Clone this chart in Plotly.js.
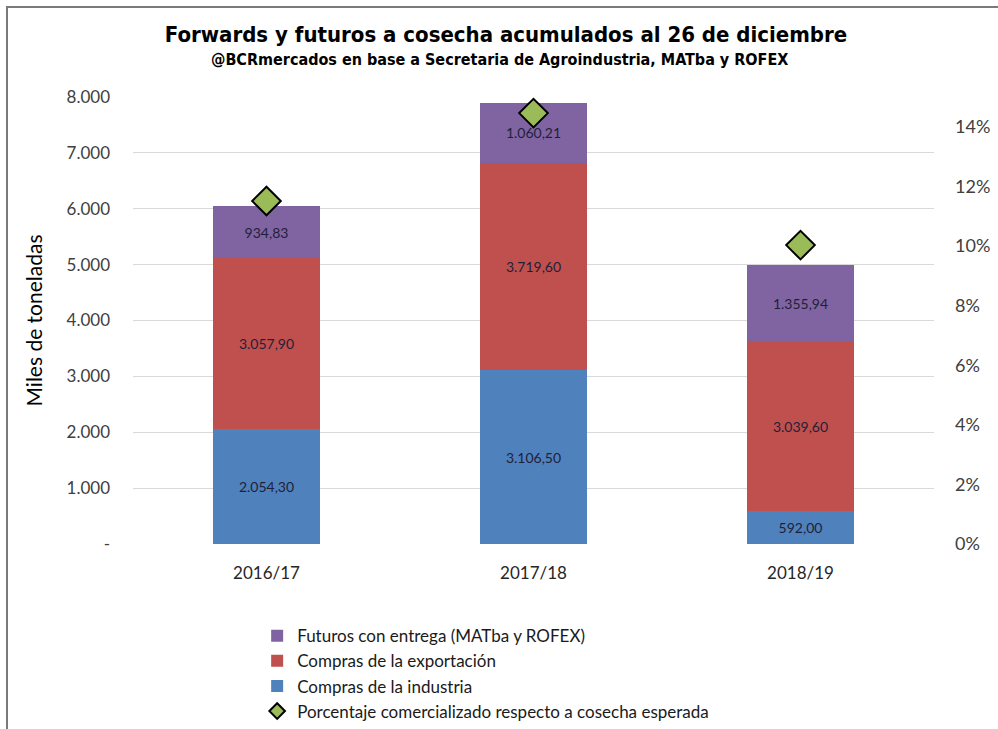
<!DOCTYPE html>
<html>
<head>
<meta charset="utf-8">
<script src="https://cdn.plot.ly/plotly-3.0.1.min.js"></script>
<style>
html,body{margin:0;padding:0;background:#fff;}
#wrap{position:relative;width:998px;height:729px;}
#chart{position:absolute;left:0;top:0;width:998px;height:729px;}
#frame{position:absolute;left:6px;top:6px;width:992px;height:723px;border-left:2px solid #7a7a7a;border-top:2px solid #7a7a7a;box-sizing:border-box;pointer-events:none;}
</style>
</head>
<body>
<div id="wrap"><div id="chart"></div><div id="frame"></div></div>
<script>
const campaigns = ["2016/17", "2017/18", "2018/19"];
const industria = [2054.30, 3106.50, 592.00];
const exportacion = [3057.90, 3719.60, 3039.60];
const futuros = [934.83, 1060.21, 1355.94];
const porcentaje = [0.1151, 0.1446, 0.1003];
const leftTickVals = [0, 1000, 2000, 3000, 4000, 5000, 6000, 7000, 8000];
const leftTickText = ["-", "1.000", "2.000", "3.000", "4.000", "5.000", "6.000", "7.000", "8.000"];
const rightTickVals = [0, 0.02, 0.04, 0.06, 0.08, 0.10, 0.12, 0.14];
const rightTickText = ["0%", "2%", "4%", "6%", "8%", "10%", "12%", "14%"];

const baseFont = "Lato, 'Open Sans', sans-serif";
const condFont = "'DejaVu Sans Condensed', 'Liberation Sans Narrow', sans-serif";
const barText = {family: baseFont, size: 14, color: "#1f1f3a"};

function barTrace(name, y, color, rank) {
  return {
    type: "bar", name: name, x: campaigns, y: y,
    marker: {color: color},
    texttemplate: "%{y:,.2f}", textposition: "inside", insidetextanchor: "middle",
    textfont: barText, legendrank: rank, hoverinfo: "name+y"
  };
}

const data = [
  barTrace("Compras de la industria", industria, "#4F81BD", 3),
  barTrace("Compras de la exportación", exportacion, "#C0504D", 2),
  barTrace("Futuros con entrega (MATba y ROFEX)", futuros, "#8064A2", 1),
  {
    type: "scatter", mode: "markers", name: "Porcentaje comercializado respecto a cosecha esperada",
    x: campaigns, y: porcentaje, yaxis: "y2",
    marker: {symbol: "diamond", size: 22, color: "#9BBB59", line: {color: "#000", width: 2}},
    legendrank: 4
  }
];

const layout = {
  width: 998, height: 729,
  margin: {l: 133, r: 64, t: 97, b: 185},
  paper_bgcolor: "#fff", plot_bgcolor: "#fff",
  separators: ",.",
  barmode: "stack", bargap: 0.6,
  showlegend: true,
  title: {
    text: "Forwards y futuros a cosecha acumulados al 26 de diciembre",
    x: 0.507, xref: "container", xanchor: "center",
    y: 0.953, yref: "container", yanchor: "middle",
    font: {family: condFont, size: 22, weight: "bold", color: "#000"}
  },
  annotations: [{
    text: "@BCRmercados en base a Secretaria de Agroindustria, MATba y ROFEX",
    xref: "paper", yref: "paper", x: 0.457, y: 1.083, xanchor: "center", yanchor: "middle",
    showarrow: false,
    font: {family: condFont, size: 16, weight: "bold", color: "#000"}
  }],
  xaxis: {
    type: "category", showgrid: false, zeroline: false, showline: false,
    ticks: "", ticklabelstandoff: 17,
    tickfont: {family: baseFont, size: 17, color: "#262626"}
  },
  yaxis: {
    range: [0, 8000], tickvals: leftTickVals, ticktext: leftTickText,
    showgrid: true, gridcolor: "#D9D9D9", gridwidth: 1, zeroline: false, showline: false,
    ticks: "", ticklabelstandoff: 22,
    tickfont: {family: baseFont, size: 17, color: "#404040"},
    title: {text: "Miles de toneladas", standoff: 18, font: {family: baseFont, size: 21, color: "#000"}}
  },
  yaxis2: {
    overlaying: "y", side: "right", range: [0, 0.15],
    tickvals: rightTickVals, ticktext: rightTickText,
    showgrid: false, zeroline: false, showline: false,
    ticks: "", ticklabelstandoff: 20,
    tickfont: {family: baseFont, size: 18, color: "#404040"}
  },
  legend: {
    orientation: "v", x: 0.155, y: 0.152, yref: "container", xanchor: "left", yanchor: "top",
    traceorder: "normal", itemsizing: "constant",
    font: {family: baseFont, size: 17, color: "#1a1a1a"},
    tracegroupgap: 0, itemwidth: 30, bgcolor: "rgba(0,0,0,0)"
  }
};

Plotly.newPlot("chart", data, layout, {displayModeBar: false, responsive: false});
</script>
</body>
</html>
